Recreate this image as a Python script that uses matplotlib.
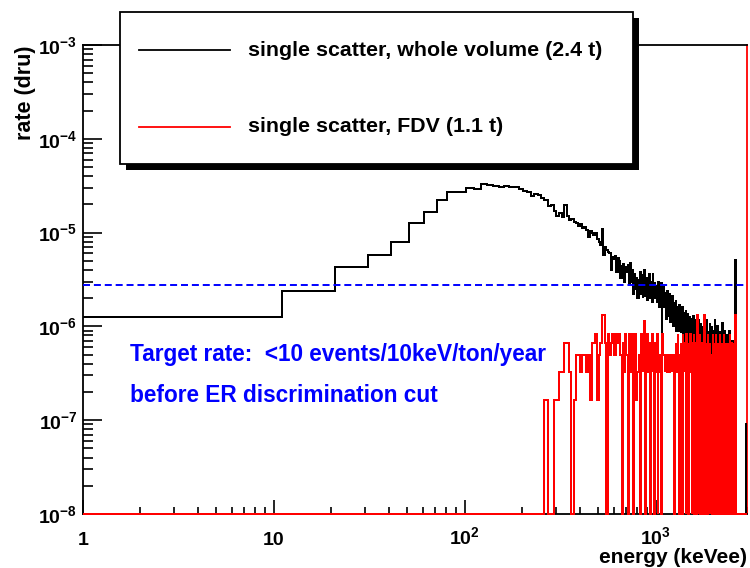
import numpy as np
import matplotlib
matplotlib.use('Agg')
import matplotlib.pyplot as plt
from matplotlib.lines import Line2D
from matplotlib.patches import Rectangle
from matplotlib.ticker import LogLocator, NullFormatter

# 10 keV bins starting at 1 keVee
e_min = 1
bin_width = 10

# whole volume single scatter rate, in units of 1e-7 dru
black_rate = [
    12.6, 24, 43, 58, 79, 126, 166, 220, 270, 270,
    300, 290, 330, 325, 315, 310, 315, 305, 305, 290,
    280, 270, 245, 255, 250, 235, 220, 190, 195, 170,
    150, 160, 145, 197, 150, 136, 140, 130, 126, 118,
    125, 112, 115, 107, 90, 105, 100, 95, 98, 85,
    80, 74, 110, 58, 70, 65, 62, 61, 40, 55,
    52, 56, 38, 53, 50, 33, 44, 46, 30, 43,
    38, 45, 28, 47, 30, 40, 22, 36, 25, 33,
    20, 31, 38, 22, 35, 20, 30, 40, 21, 33,
    19, 28, 36, 20, 30, 18, 37, 22, 29, 20,
    27, 18, 25, 30, 16, 24, 29, 8.6, 22, 26,
    16, 23, 21, 12, 24, 19, 13, 22, 11, 20,
    17, 11, 21, 10, 18, 15, 10, 19, 9, 16,
    14, 9, 17, 11, 15, 8.5, 10, 16, 8, 14,
    9, 13, 7, 15, 8, 12, 6.7, 14, 9, 11,
    13, 6, 10, 12, 6.5, 11, 9, 13, 6, 10,
    12, 5.5, 9, 11, 6, 10, 5, 9, 12, 6,
    10, 5, 11, 7, 4.5, 6.7, 10, 5, 7, 11,
    9, 4.5, 8, 10, 5, 12, 4, 9, 7.5, 3.8,
    6, 9, 11, 3.4, 8, 7, 10, 3.8, 8, 4.5,
    9, 3.4, 7.5, 12, 4, 8, 3, 9, 6, 3.4,
    10, 4, 7, 2.3, 8, 4.5, 9, 2.3, 7, 3.4,
    8, 3, 6.5, 11, 3.4, 7, 2.3, 6, 9, 3,
    7, 3.4, 1.6, 6, 8, 2.3, 6.5, 3, 7.5, 3.4,
    4, 6, 9, 2.3, 5.5, 7, 3, 1.6, 6, 3.4,
    2.3, 7, 3.4, 6, 1.6, 5, 3, 6.5, 2.3, 4.5,
    5, 51, 0.9, 0.9, 0, 0, 0, 0, 0, 0,
    0, 0, 0, 0, 0, 0, 0, 0, 0, 0,
    0, 0, 0, 0, 0, 0, 0, 0, 0, 0,
    0, 0, 0, 0, 0, 0, 0, 0, 0.9, 0,
]

# FDV single scatter, counts per bin
red_counts = [
    0, 0, 0, 0, 0, 0, 0, 0, 0, 0,
    0, 0, 0, 0, 0, 0, 0, 0, 0, 0,
    0, 0, 0, 0, 0, 0, 1, 0, 0, 1,
    1, 2, 2, 4, 4, 2, 0, 1, 3, 3,
    2, 3, 3, 2, 3, 1, 4, 4, 5, 1,
    3, 4, 8, 8, 4, 0, 5, 3, 4, 5,
    3, 3, 5, 4, 5, 3, 0, 4, 2, 5,
    3, 0, 5, 2, 4, 5, 0, 3, 5, 1,
    2, 3, 0, 5, 4, 2, 3, 7, 0, 3,
    5, 2, 4, 0, 3, 5, 2, 3, 0, 4,
    2, 5, 0, 3, 2, 3, 0, 3, 5, 3,
    3, 2, 3, 3, 2, 3, 3, 2, 3, 3,
    3, 2, 3, 3, 2, 0, 3, 4, 2, 3,
    5, 3, 0, 2, 3, 4, 2, 0, 5, 3,
    2, 4, 3, 0, 5, 2, 3, 4, 0, 3,
    2, 5, 3, 2, 0, 4, 3, 2, 5, 0,
    3, 4, 2, 0, 3, 8, 2, 4, 0, 3,
    5, 0, 3, 2, 0, 4, 1, 0, 3, 8,
    0, 2, 4, 0, 3, 1, 0, 5, 2, 0,
    3, 0, 4, 2, 0, 3, 1, 0, 5, 0,
    2, 4, 0, 3, 0, 2, 5, 0, 3, 1,
    0, 4, 2, 0, 3, 0, 5, 2, 0, 3,
    1, 0, 4, 0, 2, 3, 0, 5, 1, 0,
    3, 0, 2, 4, 0, 3, 1, 0, 4, 0,
    2, 3, 0, 5, 0, 2, 0, 3, 4, 0,
    3, 0, 2, 1, 0, 4, 0, 3, 0, 2,
    0, 8, 0, 0, 0, 0, 0, 0, 0, 0,
    0, 0, 0, 0, 0, 0, 0, 0, 0, 0,
    0, 0, 0, 0, 0, 0, 0, 0, 0, 0,
    0, 0, 0, 0, 0, 0, 0, 0, 0, 0,
]
red_unit = 1.65e-7  # dru per count

target_rate = 2.74e-6  # 10 events/10keV/ton/year

labels = ['single scatter, whole volume (2.4 t)', 'single scatter, FDV (1.1 t)']
x_ticks = [1, 10, 100, 1000]
x_ticklabels = ['1', '10', '$10^{2}$', '$10^{3}$']

plt.rcParams['font.family'] = ['Liberation Sans', 'DejaVu Sans']
plt.rcParams['font.weight'] = 'bold'
plt.rcParams['mathtext.fontset'] = 'custom'
plt.rcParams['mathtext.rm'] = 'Liberation Sans:bold'
plt.rcParams['mathtext.bf'] = 'Liberation Sans:bold'
plt.rcParams['mathtext.default'] = 'bf'

W, H = 750, 568


def fx(x):
    return x / W


def fy(y):
    return 1 - y / H


black = np.array(black_rate) * 1e-7
red = np.array(red_counts) * red_unit
edges = e_min + bin_width * np.arange(len(black) + 1)

fig = plt.figure(figsize=(7.5, 5.68), dpi=100)
ax = fig.add_axes([fx(83), fy(514), (747 - 83) / W, (514 - 45) / H])
ax.set_xscale('log')
ax.set_yscale('log')

floor = 1e-8
ax.stairs(np.clip(black, floor, None), edges, baseline=None, color='black', lw=1.4,
          antialiased=False, zorder=3)
ax.stairs(np.clip(red, floor, None), edges, baseline=None, color='red', lw=1.4,
          antialiased=False, zorder=3.5, clip_on=False)
ax.axhline(target_rate, color='#0000ff', lw=1.4, ls=(0, (3.6, 2)), zorder=4)

ax.set_xlim(1, 3000)
ax.set_ylim(1e-8, 1e-3)

ax.set_xticks(x_ticks)
ax.set_xticklabels(x_ticklabels)
ax.xaxis.set_minor_locator(LogLocator(base=10, subs=np.arange(2, 10), numticks=20))
ax.yaxis.set_major_locator(LogLocator(base=10, numticks=20))
ax.yaxis.set_minor_locator(LogLocator(base=10, subs=np.arange(2, 10), numticks=20))
ax.xaxis.set_minor_formatter(NullFormatter())
ax.yaxis.set_minor_formatter(NullFormatter())

ax.tick_params(which='both', direction='in', top=False, right=False, width=1.2, labelsize=14)
ax.tick_params(axis='x', which='major', length=10, pad=22)
ax.tick_params(axis='x', which='minor', length=5)
ax.tick_params(axis='y', which='major', length=14, pad=4)
ax.tick_params(axis='y', which='minor', length=7)
plt.setp(ax.get_xticklabels(), va='baseline')

for s in ax.spines.values():
    s.set_linewidth(1.3)
ax.spines['right'].set_color('red')

fig.text(fx(25), fy(45), 'rate (dru)', rotation=90, ha='center', va='top', fontsize=15.5)
fig.text(fx(747), fy(567), 'energy (keVee)', ha='right', va='bottom', fontsize=15)

ax.text(0.071, 0.341, 'Target rate:  <10 events/10keV/ton/year', transform=ax.transAxes,
        color='#0000ff', fontsize=16.3, va='center')
ax.text(0.071, 0.252, 'before ER discrimination cut', transform=ax.transAxes,
        color='#0000ff', fontsize=16.3, va='center')

# legend box with shadow, ROOT style
fig.add_artist(Rectangle((fx(126), fy(170)), (633 - 120) / W, (164 - 12) / H,
                         facecolor='black', edgecolor='none', zorder=10))
fig.add_artist(Rectangle((fx(120), fy(164)), (633 - 120) / W, (164 - 12) / H,
                         facecolor='white', edgecolor='black', lw=1.3, zorder=11))
for yl, col, lab in zip([50, 127], ['black', 'red'], labels):
    fig.add_artist(Line2D([fx(139), fx(230)], [fy(yl), fy(yl)], color=col, lw=1.3, zorder=12))
    fig.text(fx(248), fy(yl), lab, ha='left', va='center', fontsize=15.4, zorder=12)

fig.savefig('out.png', dpi=100)
